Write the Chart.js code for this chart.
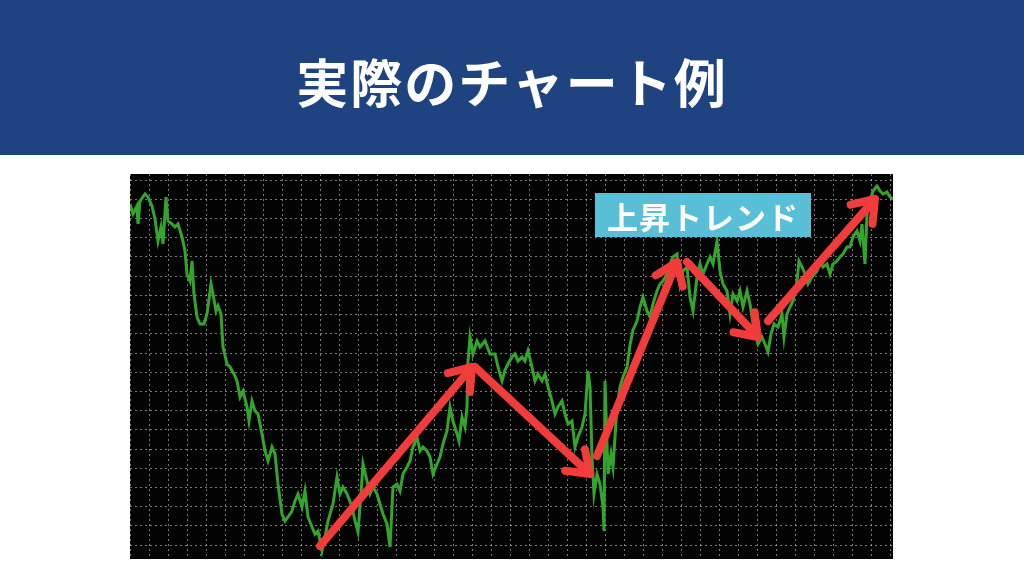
<!DOCTYPE html>
<html lang="ja">
<head>
    <meta charset="UTF-8">
    <title>実際のチャート例</title>
    <script src="https://cdn.jsdelivr.net/npm/chart.js"></script>
    <style>
        body {
            margin: 0;
            width: 1024px;
            height: 576px;
            background: #ffffff;
            position: relative;
            overflow: hidden;
            font-family: 'Noto Sans CJK JP', 'Noto Sans', sans-serif;
        }

        .banner {
            position: absolute;
            left: 0;
            top: 0;
            width: 1024px;
            height: 155px;
            background: #1f4281;
            display: flex;
            align-items: center;
            justify-content: center;
        }

        .banner h1 {
            margin: 0;
            color: #ffffff;
            font-size: 52px;
            font-weight: 700;
            letter-spacing: 2px;
            transform: translateY(3px);
        }

        .chart-box {
            position: absolute;
            left: 130px;
            top: 174px;
            width: 763px;
            height: 385px;
            background: #030303;
        }

        .trend-label {
            position: absolute;
            left: 595px;
            top: 193px;
            width: 216px;
            height: 44px;
            background: #59bfd6;
            color: #ffffff;
            font-size: 31px;
            font-weight: 700;
            letter-spacing: 1px;
            display: flex;
            align-items: center;
            justify-content: center;
        }
    </style>
</head>
<body>
    <div class="banner"><h1>実際のチャート例</h1></div>

    <div class="chart-box">
        <canvas id="priceChart" width="763" height="385"></canvas>
    </div>

    <div class="trend-label">上昇トレンド</div>

    <script>
        // time (bar index) and price (pips above the lowest grid line)
        const bars = [
            0, 3, 7, 8, 10, 15, 18, 22, 25, 28, 31, 33, 36, 38, 42, 45, 48, 52, 55, 57,
            60, 62, 64, 67, 70, 74, 77, 81, 83, 86, 88, 91, 93, 97, 100, 104, 107, 110, 113, 117,
            119, 122, 125, 128, 132, 135, 138, 142, 145, 148, 152, 155, 158, 162, 165, 168, 172, 175, 178, 182,
            185, 188, 192, 195, 198, 203, 207, 210, 213, 217, 222, 225, 228, 231, 233, 237, 240, 243, 247, 250,
            253, 257, 260, 263, 267, 270, 273, 277, 280, 283, 287, 290, 293, 297, 300, 303, 307, 310, 313, 317,
            320, 323, 327, 329, 332, 335, 337, 338, 340, 343, 347, 350, 355, 360, 365, 368, 372, 375, 378, 382,
            385, 388, 392, 395, 398, 402, 405, 408, 412, 415, 418, 422, 425, 428, 432, 435, 438, 442, 445, 448,
            452, 455, 458, 460, 462, 464, 467, 470, 473, 474, 475, 478, 481, 483, 487, 490, 493, 497, 500, 503,
            507, 510, 513, 517, 520, 523, 527, 530, 533, 537, 540, 543, 547, 550, 553, 557, 560, 563, 567, 570,
            573, 577, 580, 583, 587, 590, 593, 597, 600, 603, 607, 610, 613, 617, 620, 623, 628, 632, 635, 638,
            641, 644, 648, 652, 654, 657, 660, 663, 667, 669, 672, 675, 678, 682, 687, 690, 693, 697, 700, 703,
            707, 710, 713, 717, 720, 723, 727, 730, 732, 735, 737, 740, 743, 747, 750, 753, 757, 760, 763
        ];
        const prices = [
            341, 331, 339, 321, 344, 351, 348, 339, 326, 304, 318, 301, 348, 324, 321, 318, 321, 308, 294, 271,
            264, 284, 251, 228, 221, 221, 231, 261, 251, 234, 239, 231, 198, 181, 178, 171, 164, 148, 154, 138,
            124, 144, 134, 131, 111, 94, 84, 98, 91, 61, 31, 24, 28, 34, 44, 51, 38, 54, 28, 18,
            11, 14, -6, 8, 24, 41, 68, 51, 58, 51, 38, 24, 13, 51, 81, 64, 51, 58, 51, 41,
            31, 21, -2, 58, 61, 54, 71, 78, 84, 98, 108, 94, 98, 94, 88, 71, 81, 88, 101, 114,
            138, 124, 111, 104, 128, 118, 138, 184, 208, 191, 204, 198, 204, 191, 191, 178, 164, 175, 181, 188,
            191, 184, 188, 184, 194, 178, 164, 171, 164, 171, 158, 144, 131, 138, 144, 131, 121, 124, 98, 108,
            118, 131, 174, 158, 88, 51, 71, 61, 38, 14, 164, 71, 91, 78, 138, 158, 168, 178, 200, 215,
            224, 238, 248, 234, 228, 241, 254, 261, 264, 271, 281, 288, 291, 261, 274, 278, 248, 234, 268, 281,
            271, 281, 288, 281, 304, 274, 261, 254, 231, 251, 244, 254, 238, 254, 241, 221, 201, 208, 201, 193,
            211, 221, 218, 231, 208, 231, 238, 244, 264, 284, 278, 271, 261, 268, 274, 284, 278, 281, 271, 281,
            284, 288, 291, 298, 298, 308, 314, 304, 321, 281, 331, 344, 354, 359, 354, 351, 353, 348, 346
        ];

        // trend arrows: [fromBar, fromPrice, toBar, toPrice]
        const trendArrows = [
            [190, -1, 342, 178],
            [345, 178, 460, 71],
            [467, 89, 547, 283],
            [557, 283, 628, 208],
            [638, 224, 745, 346]
        ];

        const barMin = 0;
        const barMax = 763;
        const barStep = 19;
        const priceMin = -14;
        const priceMax = 371;
        const priceStep = 19.2;

        const points = bars.map((b, i) => ({ x: b, y: prices[i] }));

        const arrowPlugin = {
            id: 'trendArrows',
            afterDatasetsDraw(chart) {
                const { ctx, scales } = chart;
                ctx.save();
                ctx.strokeStyle = '#f23b3b';
                ctx.lineWidth = 8;
                ctx.lineCap = 'round';
                ctx.lineJoin = 'round';
                trendArrows.forEach(([b1, p1, b2, p2]) => {
                    const x1 = scales.x.getPixelForValue(b1);
                    const y1 = scales.y.getPixelForValue(p1);
                    const x2 = scales.x.getPixelForValue(b2);
                    const y2 = scales.y.getPixelForValue(p2);
                    const angle = Math.atan2(y2 - y1, x2 - x1);
                    const head = 25;
                    const spread = 0.62;
                    ctx.beginPath();
                    ctx.moveTo(x1, y1);
                    ctx.lineTo(x2, y2);
                    ctx.moveTo(x2 - head * Math.cos(angle - spread), y2 - head * Math.sin(angle - spread));
                    ctx.lineTo(x2, y2);
                    ctx.lineTo(x2 - head * Math.cos(angle + spread), y2 - head * Math.sin(angle + spread));
                    ctx.stroke();
                });
                ctx.restore();
            }
        };

        const gridColor = 'rgba(200, 200, 200, 0.6)';

        new Chart(document.getElementById('priceChart').getContext('2d'), {
            type: 'line',
            data: {
                datasets: [{
                    label: 'Price',
                    data: points,
                    borderColor: '#33a52a',
                    borderWidth: 3,
                    pointRadius: 0,
                    tension: 0,
                    fill: false
                }]
            },
            options: {
                responsive: false,
                animation: false,
                devicePixelRatio: 1,
                layout: { padding: 0 },
                plugins: {
                    legend: { display: false },
                    tooltip: { enabled: false }
                },
                scales: {
                    x: {
                        type: 'linear',
                        min: barMin,
                        max: barMax,
                        ticks: { display: false, stepSize: barStep, includeBounds: false, padding: 0 },
                        grid: { color: gridColor, drawTicks: false, lineWidth: 1 },
                        border: { display: false, dash: [2, 3] }
                    },
                    y: {
                        type: 'linear',
                        min: priceMin,
                        max: priceMax,
                        ticks: { display: false, stepSize: priceStep, includeBounds: false, padding: 0 },
                        grid: { color: gridColor, drawTicks: false, lineWidth: 1 },
                        border: { display: false, dash: [2, 3] }
                    }
                }
            },
            plugins: [arrowPlugin]
        });
    </script>
</body>
</html>
